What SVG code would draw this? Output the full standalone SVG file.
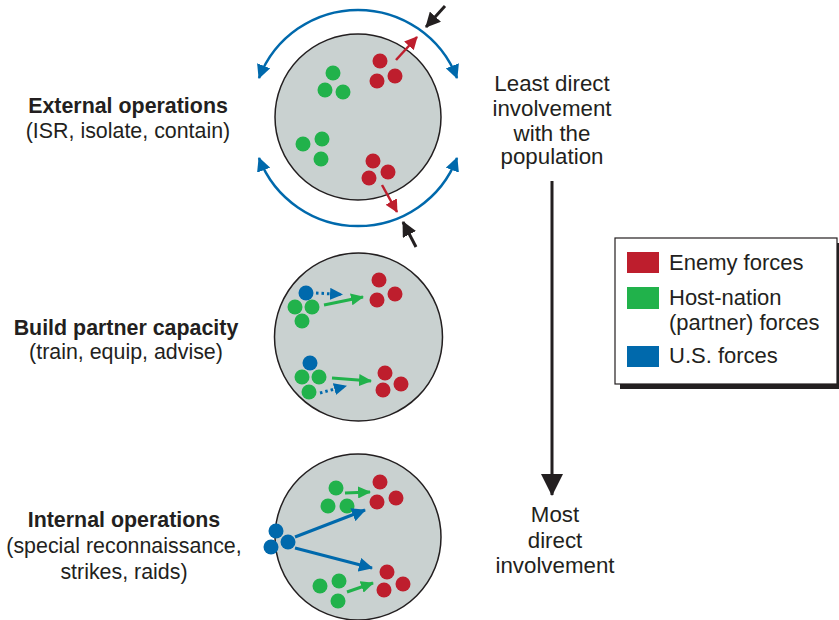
<svg xmlns="http://www.w3.org/2000/svg" width="839" height="620" viewBox="0 0 839 620">
  <style>
    .ring { fill: #c9d1d0; stroke: #231f20; stroke-width: 1.5; }
    .r { fill: #be1e2d; }
    .g { fill: #21b24b; }
    .b { fill: #0069ac; }
    .lbl { font-family: "Liberation Sans", Arial, sans-serif; font-size: 21.4px; fill: #231f20; text-anchor: middle; }
    .bold { font-weight: bold; }
    .side { font-family: "Liberation Sans", Arial, sans-serif; font-size: 22.3px; fill: #231f20; text-anchor: middle; }
    .leg { font-family: "Liberation Sans", Arial, sans-serif; font-size: 22px; fill: #231f20; }
    .arc { fill: none; stroke: #0069ac; stroke-width: 2.5; }
    .ar { stroke: #be1e2d; stroke-width: 2.5; fill: none; }
    .ag { stroke: #21b24b; stroke-width: 3; fill: none; }
    .ab { stroke: #0069ac; stroke-width: 3; fill: none; }
    .abd { stroke: #0069ac; stroke-width: 3; fill: none; stroke-dasharray: 2.5 3; }
    .ak { stroke: #231f20; stroke-width: 3; fill: none; }
  </style>
  <defs>
    <marker id="mBlue" markerUnits="userSpaceOnUse" markerWidth="14" markerHeight="14" viewBox="0 0 14 14" refX="13" refY="7" orient="auto-start-reverse">
      <path d="M0,0 L14,7 L0,14 z" fill="#0069ac"/>
    </marker>
    <marker id="mBlueS" markerUnits="userSpaceOnUse" markerWidth="13" markerHeight="12" viewBox="0 0 13 12" refX="12" refY="6" orient="auto">
      <path d="M0,0 L13,6 L0,12 z" fill="#0069ac"/>
    </marker>
    <marker id="mRed" markerUnits="userSpaceOnUse" markerWidth="13" markerHeight="13" viewBox="0 0 13 13" refX="12" refY="6.5" orient="auto">
      <path d="M0,0 L13,6.5 L0,13 z" fill="#be1e2d"/>
    </marker>
    <marker id="mGreen" markerUnits="userSpaceOnUse" markerWidth="13" markerHeight="12" viewBox="0 0 13 12" refX="12" refY="6" orient="auto">
      <path d="M0,0 L13,6 L0,12 z" fill="#21b24b"/>
    </marker>
    <marker id="mBlack" markerUnits="userSpaceOnUse" markerWidth="15" markerHeight="15" viewBox="0 0 15 15" refX="14" refY="7.5" orient="auto">
      <path d="M0,0 L15,7.5 L0,15 z" fill="#231f20"/>
    </marker>
    <marker id="mBig" markerUnits="userSpaceOnUse" markerWidth="22" markerHeight="22" viewBox="0 0 22 22" refX="21" refY="11" orient="auto">
      <path d="M0,0 L22,11 L0,22 z" fill="#231f20"/>
    </marker>
  </defs>

  <!-- Side labels -->
  <g id="label-external">
    <text class="lbl" x="128" y="113"><tspan class="bold" x="128" y="113">External operations</tspan><tspan x="128" y="138">(ISR, isolate, contain)</tspan></text>
  </g>
  <g id="label-build">
    <text class="lbl" x="126" y="335"><tspan class="bold" x="126" y="335">Build partner capacity</tspan><tspan x="126" y="359">(train, equip, advise)</tspan></text>
  </g>
  <g id="label-internal">
    <text class="lbl" x="124" y="527"><tspan class="bold" x="124" y="527">Internal operations</tspan><tspan x="124" y="553">(special reconnaissance,</tspan><tspan x="124" y="579">strikes, raids)</tspan></text>
  </g>

  <!-- Circle 1: external operations -->
  <g id="node-external">
    <circle class="ring" cx="358" cy="117" r="83"/>
    <circle class="g" cx="333" cy="73" r="7.5"/>
    <circle class="g" cx="325" cy="90" r="7.5"/>
    <circle class="g" cx="343" cy="92" r="7.5"/>
    <circle class="g" cx="303" cy="144" r="7.5"/>
    <circle class="g" cx="322" cy="139" r="7.5"/>
    <circle class="g" cx="321" cy="159" r="7.5"/>
    <circle class="r" cx="380" cy="61" r="7.5"/>
    <circle class="r" cx="377" cy="81" r="7.5"/>
    <circle class="r" cx="395" cy="76" r="7.5"/>
    <circle class="r" cx="373" cy="161" r="7.5"/>
    <circle class="r" cx="369" cy="178" r="7.5"/>
    <circle class="r" cx="388" cy="172" r="7.5"/>
  </g>

  <!-- Circle 2: build partner capacity -->
  <g id="node-build">
    <circle class="ring" cx="358.5" cy="337" r="84"/>
    <circle class="b" cx="306" cy="293" r="7.5"/>
    <circle class="g" cx="295" cy="307" r="7.5"/>
    <circle class="g" cx="312" cy="307" r="7.5"/>
    <circle class="g" cx="302" cy="321" r="7.5"/>
    <circle class="r" cx="379" cy="280" r="7.5"/>
    <circle class="r" cx="377" cy="300" r="7.5"/>
    <circle class="r" cx="395" cy="294" r="7.5"/>
    <circle class="b" cx="310" cy="363" r="7.5"/>
    <circle class="g" cx="302" cy="377" r="7.5"/>
    <circle class="g" cx="319" cy="377" r="7.5"/>
    <circle class="g" cx="309" cy="392" r="7.5"/>
    <circle class="r" cx="385" cy="373" r="7.5"/>
    <circle class="r" cx="383" cy="390" r="7.5"/>
    <circle class="r" cx="401" cy="384" r="7.5"/>
  </g>

  <!-- Circle 3: internal operations -->
  <g id="node-internal">
    <circle class="ring" cx="358" cy="537" r="83"/>
    <circle class="g" cx="336" cy="488" r="7.5"/>
    <circle class="g" cx="328" cy="506" r="7.5"/>
    <circle class="g" cx="347" cy="506" r="7.5"/>
    <circle class="r" cx="380" cy="482" r="7.5"/>
    <circle class="r" cx="377" cy="502" r="7.5"/>
    <circle class="r" cx="396" cy="498" r="7.5"/>
    <circle class="g" cx="320" cy="586" r="7.5"/>
    <circle class="g" cx="339" cy="581" r="7.5"/>
    <circle class="g" cx="338" cy="601" r="7.5"/>
    <circle class="r" cx="387" cy="572" r="7.5"/>
    <circle class="r" cx="384" cy="590" r="7.5"/>
    <circle class="r" cx="403" cy="584" r="7.5"/>
    <circle class="b" cx="276" cy="531" r="7.5"/>
    <circle class="b" cx="271" cy="547" r="7.5"/>
    <circle class="b" cx="288" cy="542" r="7.5"/>
  </g>

  <!-- Right-hand labels -->
  <g id="label-least">
    <text class="side" x="552" y="91"><tspan x="552" y="91">Least direct</tspan><tspan x="552" y="116">involvement</tspan><tspan x="552" y="141">with the</tspan><tspan x="552" y="164">population</tspan></text>
  </g>
  <g id="label-most">
    <text class="side" x="555" y="522"><tspan x="555" y="522">Most</tspan><tspan x="555" y="548">direct</tspan><tspan x="555" y="573">involvement</tspan></text>
  </g>

  <!-- Legend -->
  <g id="legend">
    <rect x="620" y="243" width="219" height="146" fill="#231f20"/>
    <rect x="615" y="238" width="222" height="146" fill="#ffffff" stroke="#231f20" stroke-width="1.2"/>
    <rect x="627" y="252" width="32" height="21" fill="#be1e2d"/>
    <rect x="627" y="287" width="32" height="22" fill="#21b24b"/>
    <rect x="627" y="346" width="32" height="21" fill="#0069ac"/>
    <text class="leg" x="669" y="270">Enemy forces</text>
    <text class="leg" x="669" y="305"><tspan x="669" y="305">Host-nation</tspan><tspan x="669" y="330">(partner) forces</tspan></text>
    <text class="leg" x="669" y="363">U.S. forces</text>
  </g>

  <!-- Connectors -->
  <g id="connectors">
    <path class="arc" d="M259,78 A106,106 0 0 1 457,78" marker-start="url(#mBlue)" marker-end="url(#mBlue)"/>
    <path class="arc" d="M259,158 A106,106 0 0 0 457,158" marker-start="url(#mBlue)" marker-end="url(#mBlue)"/>
    <line class="ar" x1="396" y1="60" x2="417" y2="37" marker-end="url(#mRed)"/>
    <line class="ar" x1="382" y1="185" x2="397" y2="212" marker-end="url(#mRed)"/>
    <line class="ak" x1="445" y1="6" x2="426" y2="27" marker-end="url(#mBlack)"/>
    <line class="ak" x1="416" y1="247" x2="403" y2="222" marker-end="url(#mBlack)"/>

    <line class="abd" x1="316" y1="293" x2="342" y2="294.5" marker-end="url(#mBlueS)"/>
    <line class="ag" x1="324" y1="305" x2="363" y2="297" marker-end="url(#mGreen)"/>
    <line class="abd" x1="320" y1="393" x2="346" y2="386" marker-end="url(#mBlueS)"/>
    <line class="ag" x1="332" y1="378" x2="371" y2="381" marker-end="url(#mGreen)"/>

    <line class="ag" x1="345" y1="493" x2="370" y2="492" marker-end="url(#mGreen)"/>
    <line class="ag" x1="347" y1="592" x2="373" y2="583" marker-end="url(#mGreen)"/>
    <line class="ab" x1="295" y1="537" x2="365" y2="510" marker-end="url(#mBlue)"/>
    <line class="ab" x1="295" y1="548" x2="372" y2="568" marker-end="url(#mBlue)"/>

    <line class="ak" x1="552" y1="181" x2="552" y2="495" marker-end="url(#mBig)"/>
  </g>
</svg>
